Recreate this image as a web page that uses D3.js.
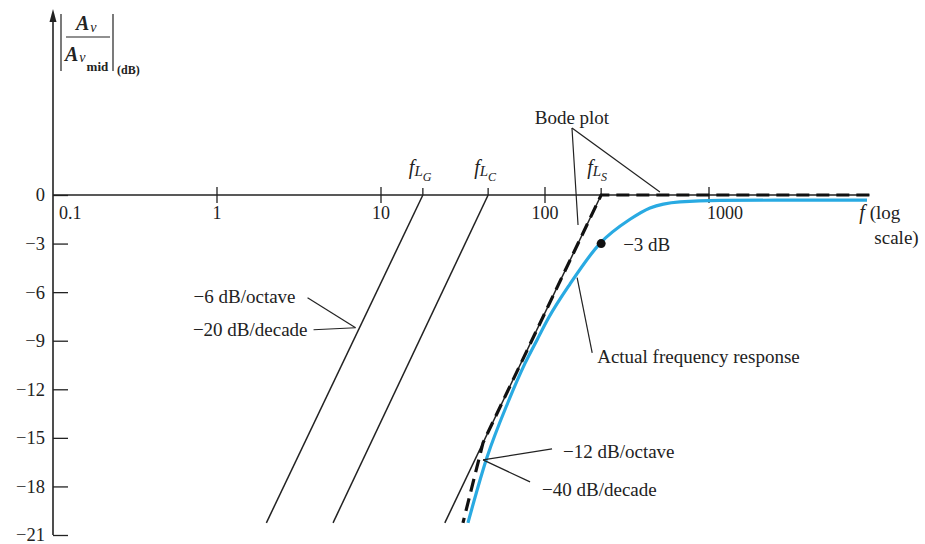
<!DOCTYPE html>
<html>
<head>
<meta charset="utf-8">
<script src="https://cdn.jsdelivr.net/npm/d3@7"></script>
<style>
  body { margin: 0; background: #fff; }
  svg text { font-family: "Liberation Serif", "DejaVu Serif", serif; fill: #222; }
</style>
</head>
<body>
<svg width="925" height="544"></svg>
<script>
// frequency axis (log) and gain axis (dB)
const xTicks      = [0.1, 1, 10, 100, 1000];
const xTickLabels = ["0.1", "1", "10", "100", "1000"];
const yTicks      = [0, -3, -6, -9, -12, -15, -18, -21];

// corner frequencies fLG, fLC, fLS
const cornerNames = ["G", "C", "S"];
const cornerFreqs = [18, 45, 220];
// where each thin asymptote ends at the bottom
const asymEndFreqs = [2.0, 5.1, 24.5];
const asymEndDb    = -20.25;

// Bode (dashed) approximation
const bodeF  = [9500, 220, 41.9, 31.6];
const bodeDb = [0, 0, -15.3, -20.25];

// actual response (blue)
const actualF  = [33.9, 44.3, 59.5, 75.5, 89.4, 105, 142, 216, 330, 437, 665, 1167, 3000, 9190];
const actualDb = [-20.25, -16.2, -12.8, -10.4, -8.95, -7.6, -5.5, -3.0, -1.5, -0.8, -0.42, -0.33, -0.32, -0.32];

const svg = d3.select("svg"),
      x   = d3.scaleLog().domain([0.1, 10000]).range([53, 873]),
      y   = d3.scaleLinear().domain([-21, 0]).range([535, 195]),
      ink = "#222",
      fs  = "19px";

// y axis with arrow
svg.append("line")
    .attr("x1", x(0.1)).attr("x2", x(0.1))
    .attr("y1", y(-21)).attr("y2", 20)
    .attr("stroke", ink).attr("stroke-width", 1.6);
svg.append("path")
    .attr("d", `M${x(0.1)},9 L${x(0.1) - 3.5},22 L${x(0.1) + 3.5},22 Z`)
    .attr("fill", ink);

const yAxis = svg.append("g")
    .attr("transform", `translate(${x(0.1)},0)`)
    .call(d3.axisLeft(y).tickValues(yTicks).tickSize(-15).tickSizeOuter(0).tickPadding(8));
yAxis.select(".domain").remove();
yAxis.selectAll(".tick line").attr("stroke", ink).attr("stroke-width", 1.3);
yAxis.selectAll(".tick text")
    .style("font-family", "Liberation Serif")
    .style("font-size", "18.5px")
    .attr("fill", ink);

// x axis
svg.append("line")
    .attr("x1", x(0.1)).attr("x2", x(9500))
    .attr("y1", y(0)).attr("y2", y(0))
    .attr("stroke", ink).attr("stroke-width", 1.3);

svg.selectAll(".xtick")
  .data(xTicks.slice(1))
  .enter().append("line")
    .attr("x1", d => x(d)).attr("x2", d => x(d))
    .attr("y1", y(0) - 8).attr("y2", y(0) + 8)
    .attr("stroke", ink).attr("stroke-width", 1.3);

svg.selectAll(".xlabel")
  .data(xTicks)
  .enter().append("text")
    .attr("x", (d, i) => i === 0 ? x(d) + 6 : (i === 4 ? x(d) - 2 : x(d)))
    .attr("y", y(0) + 24)
    .attr("text-anchor", (d, i) => i === 0 || i === 4 ? "start" : "middle")
    .style("font-size", "18px")
    .text((d, i) => xTickLabels[i]);

// corner ticks and labels
svg.selectAll(".ctick")
  .data(cornerFreqs)
  .enter().append("line")
    .attr("x1", d => x(d)).attr("x2", d => x(d))
    .attr("y1", y(0) - 7).attr("y2", y(0))
    .attr("stroke", ink).attr("stroke-width", 1.3);

cornerFreqs.forEach((f, i) => {
  const t = svg.append("text")
      .attr("x", x(f) - 14)
      .attr("y", y(0) - 21);
  t.append("tspan").style("font-style", "italic").style("font-size", "20px").text("f");
  t.append("tspan").style("font-style", "italic").style("font-size", "15px").attr("dy", 2).text("L");
  t.append("tspan").style("font-style", "italic").style("font-size", "12px").attr("dy", 5).text(cornerNames[i]);
});

// thin asymptotes from each corner
svg.selectAll(".asym")
  .data(cornerFreqs)
  .enter().append("line")
    .attr("x1", d => x(d)).attr("y1", y(0))
    .attr("x2", (d, i) => x(asymEndFreqs[i])).attr("y2", y(asymEndDb))
    .attr("stroke", ink).attr("stroke-width", 1.5);

// actual response
const actual = actualF.map((f, i) => [f, actualDb[i]]);
svg.append("path")
    .datum(actual)
    .attr("fill", "none")
    .attr("stroke", "#29aae2")
    .attr("stroke-width", 3.2)
    .attr("d", d3.line().x(d => x(d[0])).y(d => y(d[1])).curve(d3.curveMonotoneX));

// Bode approximation
const bode = bodeF.map((f, i) => [f, bodeDb[i]]);
svg.append("path")
    .datum(bode)
    .attr("fill", "none")
    .attr("stroke", "#111")
    .attr("stroke-width", 3.2)
    .attr("stroke-dasharray", "13,7")
    .attr("d", d3.line().x(d => x(d[0])).y(d => y(d[1])));

// -3 dB point
svg.append("circle")
    .attr("cx", x(cornerFreqs[2])).attr("cy", y(-3)).attr("r", 4.5)
    .attr("fill", "#111");
svg.append("text")
    .attr("x", x(cornerFreqs[2]) + 22).attr("y", y(-3) + 7)
    .style("font-size", fs)
    .text("\u22123 dB");

// annotations
function pointer(x1, y1, x2, y2) {
  svg.append("line")
      .attr("x1", x1).attr("y1", y1).attr("x2", x2).attr("y2", y2)
      .attr("stroke", ink).attr("stroke-width", 1.2);
}
function label(tx, ty, anchor, str) {
  svg.append("text")
      .attr("x", tx).attr("y", ty)
      .attr("text-anchor", anchor)
      .style("font-size", fs)
      .text(str);
}

// Bode plot
const bx = x(146), by = y(4.14);
label(bx, by - 4, "middle", "Bode plot");
pointer(bx, by, x(159), y(-1.85));
pointer(bx, by, x(502), y(0.19));

// Actual frequency response
pointer(x(194), y(-9.75), x(157), y(-5.1));
label(x(194) + 5, y(-9.75) + 10, "start", "Actual frequency response");

// -6 dB/octave, -20 dB/decade
const gx = x(7.4), gy = y(-8.2);
pointer(gx - 52, gy - 30, gx - 4, gy);
pointer(gx - 46, gy + 2, gx - 4, gy);
label(gx - 64, gy - 25, "end", "\u22126 dB/octave");
label(gx - 52, gy + 8, "end", "\u221220 dB/decade");

// -12 dB/octave, -40 dB/decade
const sx = x(41.9), sy = y(-16.36);
pointer(sx + 69, sy - 11, sx, sy);
pointer(sx + 47, sy + 22, sx, sy);
label(sx + 80, sy - 2, "start", "\u221212 dB/octave");
label(sx + 59, sy + 36, "start", "\u221240 dB/decade");

// f (log scale)
const ft = svg.append("text").attr("x", x(9500) - 10).attr("y", y(0) + 24).style("font-size", fs);
ft.append("tspan").style("font-style", "italic").style("font-size", "20px").text("f");
ft.append("tspan").text(" (log");
label(x(9500) + 5, y(0) + 49, "start", "scale)");

// y axis title |Av / Av mid| (dB)
const ax = x(0.1);
pointer(ax + 8, 14, ax + 8, 71);
pointer(ax + 60, 14, ax + 60, 71);
pointer(ax + 13, 37, ax + 57, 37);
const num = svg.append("text").attr("x", ax + 23).attr("y", 30)
    .style("font-weight", "bold").style("font-size", "20px");
num.append("tspan").style("font-style", "italic").text("A");
num.append("tspan").style("font-style", "italic").style("font-size", "14px").style("font-weight", "normal").attr("dy", 2).attr("dx", 1).text("v");
const den = svg.append("text").attr("x", ax + 12).attr("y", 61)
    .style("font-weight", "bold").style("font-size", "20px");
den.append("tspan").style("font-style", "italic").text("A");
den.append("tspan").style("font-style", "italic").style("font-size", "14px").style("font-weight", "normal").attr("dy", 1).attr("dx", 1).text("v");
den.append("tspan").style("font-size", "13px").attr("dy", 9).attr("dx", 1).text("mid");
svg.append("text").attr("x", ax + 64).attr("y", 74)
    .style("font-weight", "bold").style("font-size", "12px")
    .text("(dB)");
</script>
</body>
</html>
